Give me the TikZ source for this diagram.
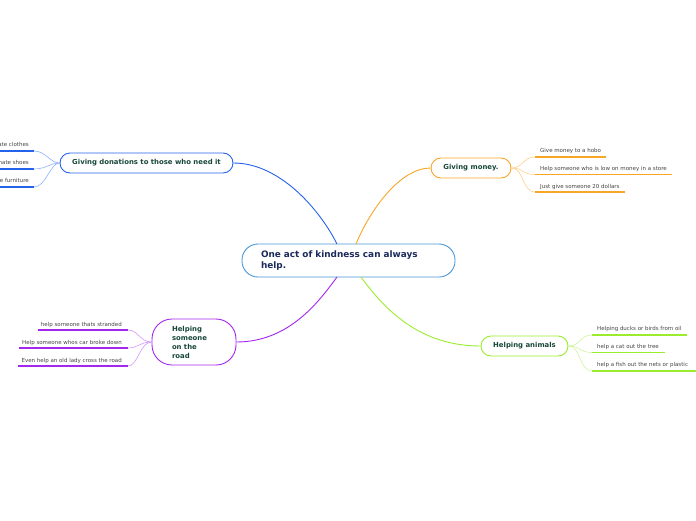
\documentclass[tikz,border=0pt]{standalone}
\usepackage{fontspec}
\setmainfont{DejaVu Sans}
\definecolor{cblue}{HTML}{2563EB}
\definecolor{lblue}{HTML}{8FB0FF}
\definecolor{corange}{HTML}{F7A625}
\definecolor{lorange}{HTML}{FFCF8A}
\definecolor{cgreen}{HTML}{9BEC2E}
\definecolor{lgreen}{HTML}{CDF59C}
\definecolor{cpurple}{HTML}{A526EE}
\definecolor{lpurple}{HTML}{D297FF}
\definecolor{cnavy}{HTML}{1B2A5C}
\definecolor{cborder}{HTML}{4A98D6}
\definecolor{ctext}{HTML}{17473A}
\definecolor{ltext}{HTML}{444444}
\tikzset{
  centralbox/.style={draw=cborder, line width=0.9pt, fill=white, rounded corners=16pt,
    minimum width=213pt, minimum height=33pt, text width=175pt, inner xsep=19pt, align=left,
    font=\fontsize{8.9}{11.5}\selectfont\bfseries, text=cnavy},
  topic/.style={draw=#1, line width=0.9pt, fill=white, rounded corners=10pt,
    minimum height=20pt, inner sep=0pt, align=center,
    font=\fontsize{6.9}{9}\selectfont\bfseries, text=ctext},
  leaf/.style={font=\fontsize{5.5}{6}\selectfont, text=ltext, inner sep=0pt},
  uline/.style={draw=#1, line width=1.5pt},
  mainlink/.style={draw=#1, line width=0.9pt},
  leaflink/.style={draw=#1, line width=0.6pt},
}
\begin{document}
\begin{tikzpicture}[x=1pt,y=-1pt]
\useasboundingbox (0,0) rectangle (696,520);

% central
\node[centralbox] (c) at (348.5,260.5) {One act of kindness can always\\help.};

% topics
\node[topic=cblue, minimum width=173pt] (don) at (146.5,163) {Giving donations to those who need it};
\node[topic=corange, minimum width=80pt] (mon) at (471,168) {Giving money.};
\node[topic=cgreen, minimum width=87pt] (ani) at (524.5,346) {Helping animals};
\node[topic=cpurple, minimum width=84pt, minimum height=46pt, rounded corners=20pt,
      text width=44pt, inner xsep=20pt, align=left] (road) at (194,342) {Helping\\someone\\on the\\road};

% main connectors
\coordinate (cbl) at (337,244);
\coordinate (cbr) at (356,244);
\coordinate (ctl) at (337,277);
\coordinate (ctr) at (361,277);
\draw[mainlink=cblue] (don.east) .. controls (280,163) and (320,210) .. (cbl);
\draw[mainlink=corange] (mon.west) .. controls (400,168) and (370,210) .. (cbr);
\draw[mainlink=cpurple] (road.east) .. controls (290,342) and (320,300) .. (ctl);
\draw[mainlink=cgreen] (ani.west) .. controls (420,346) and (385,310) .. (ctr);

% donation leaves
\node[leaf, anchor=base east] (d1) at (29,146) {Donate clothes};
\node[leaf, anchor=base east] (d2) at (29,164) {Donate shoes};
\node[leaf, anchor=base east] (d3) at (29,182) {Donate furniture};
\coordinate (d1a) at (-40,151); \coordinate (d1b) at (34,151);
\coordinate (d2a) at (-40,169); \coordinate (d2b) at (34,169);
\coordinate (d3a) at (-40,187); \coordinate (d3b) at (34,187);
\draw[uline=cblue] (d1a) -- (d1b);
\draw[uline=cblue] (d2a) -- (d2b);
\draw[uline=cblue] (d3a) -- (d3b);
\draw[leaflink=lblue] (don.west) .. controls (50,163) and (46,151) .. (d1b);
\draw[leaflink=lblue] (don.west) .. controls (50,163) and (46,169) .. (d2b);
\draw[leaflink=lblue] (don.west) .. controls (50,163) and (46,187) .. (d3b);

% money leaves
\node[leaf, anchor=base west] (m1) at (540,152) {Give money to a hobo};
\node[leaf, anchor=base west] (m2) at (540,170) {Help someone who is low on money in a store};
\node[leaf, anchor=base west] (m3) at (540,188) {Just give someone 20 dollars};
\coordinate (m1a) at (535,157); \coordinate (m1b) at (606,157);
\coordinate (m2a) at (535,174.5); \coordinate (m2b) at (672,174.5);
\coordinate (m3a) at (535,192); \coordinate (m3b) at (625,192);
\draw[uline=corange] (m1a) -- (m1b);
\draw[uline=corange] (m2a) -- (m2b);
\draw[uline=corange] (m3a) -- (m3b);
\draw[leaflink=lorange] (mon.east) .. controls (524,168) and (522,157) .. (m1a);
\draw[leaflink=lorange] (mon.east) .. controls (524,168) and (522,174.5) .. (m2a);
\draw[leaflink=lorange] (mon.east) .. controls (524,168) and (522,192) .. (m3a);

% animal leaves
\node[leaf, anchor=base west] (a1) at (597,330) {Helping ducks or birds from oil};
\node[leaf, anchor=base west] (a2) at (597,348) {help a cat out the tree};
\node[leaf, anchor=base west] (a3) at (597,366) {help a fish out the nets or plastic};
\coordinate (a1a) at (592,335); \coordinate (a1b) at (687,335);
\coordinate (a2a) at (592,352.5); \coordinate (a2b) at (665,352.5);
\coordinate (a3a) at (592,371); \coordinate (a3b) at (696,371);
\draw[uline=cgreen] (a1a) -- (a1b);
\draw[uline=cgreen] (a2a) -- (a2b);
\draw[uline=cgreen] (a3a) -- (a3b);
\draw[leaflink=lgreen] (ani.east) .. controls (581,346) and (579,335) .. (a1a);
\draw[leaflink=lgreen] (ani.east) .. controls (581,346) and (579,352.5) .. (a2a);
\draw[leaflink=lgreen] (ani.east) .. controls (581,346) and (579,371) .. (a3a);

% road leaves
\node[leaf, anchor=base east] (r1) at (122,326) {help someone thats stranded};
\node[leaf, anchor=base east] (r2) at (122,344) {Help someone whos car broke down};
\node[leaf, anchor=base east] (r3) at (122,362) {Even help an old lady cross the road};
\coordinate (r1a) at (38,330); \coordinate (r1b) at (128,330);
\coordinate (r2a) at (19,348); \coordinate (r2b) at (128,348);
\coordinate (r3a) at (18,366); \coordinate (r3b) at (128,366);
\draw[uline=cpurple] (r1a) -- (r1b);
\draw[uline=cpurple] (r2a) -- (r2b);
\draw[uline=cpurple] (r3a) -- (r3b);
\draw[leaflink=lpurple] (road.west) .. controls (140,342) and (138,330) .. (r1b);
\draw[leaflink=lpurple] (road.west) .. controls (140,342) and (138,348) .. (r2b);
\draw[leaflink=lpurple] (road.west) .. controls (140,342) and (138,366) .. (r3b);
\end{tikzpicture}
\end{document}
